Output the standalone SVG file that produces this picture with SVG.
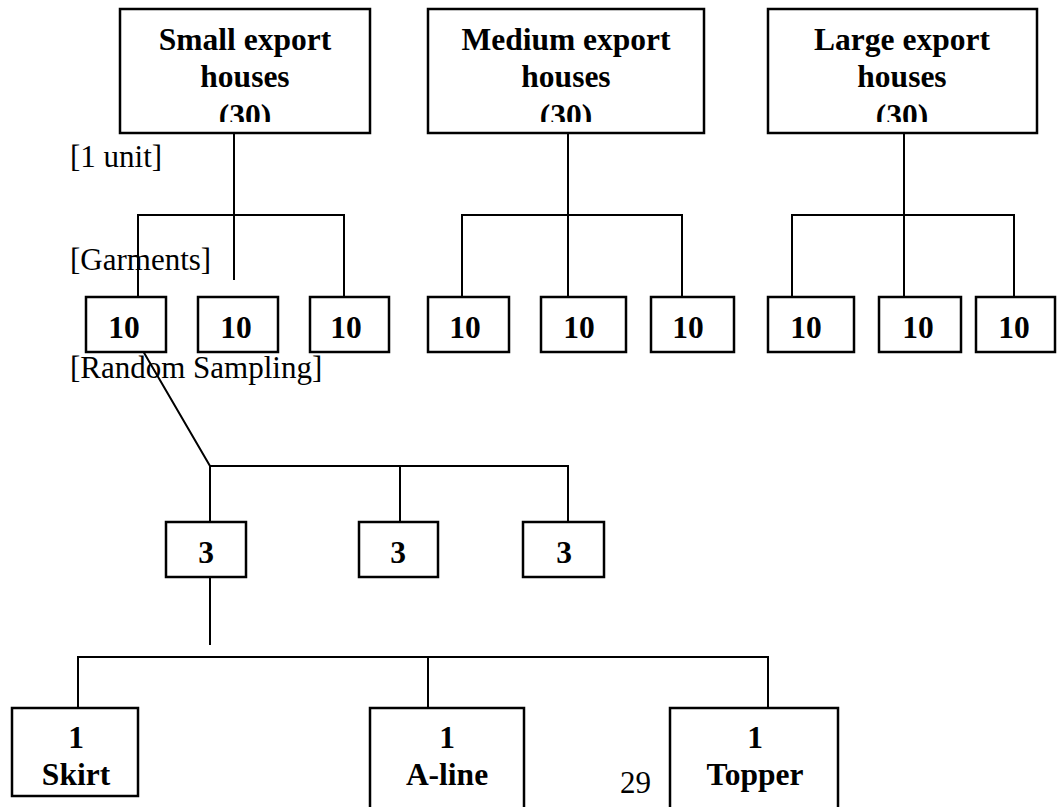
<svg xmlns="http://www.w3.org/2000/svg" width="1057" height="807" viewBox="0 0 1057 807">
<style>
.box{fill:#fff;stroke:#000;stroke-width:2.5}
.con{stroke:#000;stroke-width:2;fill:none}
.b{font-family:"Liberation Serif","Times New Roman",serif;font-weight:bold;font-size:31.5px;text-anchor:middle;fill:#000}
.r{font-family:"Liberation Serif","Times New Roman",serif;font-size:31px;fill:#000}
</style>
<defs>
<clipPath id="clipHead"><rect x="0" y="0" width="1057" height="122"/></clipPath>
</defs>
<rect width="1057" height="807" fill="#fff"/>
<g id="connectors">
<line class="con" x1="234" y1="133" x2="234" y2="280"/>
<polyline class="con" points="138,297 138,215 344,215 344,297"/>
<line class="con" x1="568" y1="133" x2="568" y2="297"/>
<polyline class="con" points="462,297 462,215 682,215 682,297"/>
<line class="con" x1="904" y1="133" x2="904" y2="297"/>
<polyline class="con" points="792,297 792,215 1014,215 1014,297"/>
<polyline class="con" points="143,351 210,466 568,466 568,522"/>
<line class="con" x1="210" y1="466" x2="210" y2="522"/>
<line class="con" x1="400" y1="466" x2="400" y2="522"/>
<line class="con" x1="210" y1="577" x2="210" y2="645"/>
<polyline class="con" points="78,708 78,657 768,657 768,708"/>
<line class="con" x1="428" y1="657" x2="428" y2="708"/>
</g>
<g id="small">
<rect class="box" x="120" y="9" width="250" height="124"/>
<g clip-path="url(#clipHead)"><text class="b" x="245" y="50">Small export</text><text class="b" x="245" y="87">houses</text><text class="b" x="245" y="126">(30)</text></g>
</g>
<g id="medium">
<rect class="box" x="428" y="9" width="276" height="124"/>
<g clip-path="url(#clipHead)"><text class="b" x="566" y="50">Medium export</text><text class="b" x="566" y="87">houses</text><text class="b" x="566" y="126">(30)</text></g>
</g>
<g id="large">
<rect class="box" x="768" y="9" width="269" height="124"/>
<g clip-path="url(#clipHead)"><text class="b" x="902" y="50">Large export</text><text class="b" x="902" y="87">houses</text><text class="b" x="902" y="126">(30)</text></g>
</g>
<g id="labels">
<text class="r" x="70" y="167">[1 unit]</text>
<text class="r" x="70" y="270">[Garments]</text>
<text class="r" x="70" y="378">[Random Sampling]</text>
<text class="r" x="620" y="793">29</text>
</g>
<g id="s1"><rect class="box" x="86" y="297" width="80" height="55"/><text class="b" x="124" y="338">10</text></g>
<g id="s2"><rect class="box" x="198" y="297" width="80" height="55"/><text class="b" x="236" y="338">10</text></g>
<g id="s3"><rect class="box" x="310" y="297" width="79" height="55"/><text class="b" x="346" y="338">10</text></g>
<g id="m1"><rect class="box" x="428" y="297" width="81" height="55"/><text class="b" x="465" y="338">10</text></g>
<g id="m2"><rect class="box" x="541" y="297" width="85" height="55"/><text class="b" x="579" y="338">10</text></g>
<g id="m3"><rect class="box" x="651" y="297" width="83" height="55"/><text class="b" x="688" y="338">10</text></g>
<g id="l1"><rect class="box" x="768" y="297" width="86" height="55"/><text class="b" x="806" y="338">10</text></g>
<g id="l2"><rect class="box" x="879" y="297" width="82" height="55"/><text class="b" x="918" y="338">10</text></g>
<g id="l3"><rect class="box" x="976" y="297" width="79" height="55"/><text class="b" x="1014" y="338">10</text></g>
<g id="r1"><rect class="box" x="166" y="522" width="80" height="55"/><text class="b" x="206" y="563">3</text></g>
<g id="r2"><rect class="box" x="359" y="522" width="79" height="55"/><text class="b" x="398" y="563">3</text></g>
<g id="r3"><rect class="box" x="523" y="522" width="81" height="55"/><text class="b" x="564" y="563">3</text></g>
<g id="skirt"><rect class="box" x="12" y="708" width="126" height="88"/><text class="b" x="76" y="748">1</text><text class="b" x="76" y="785">Skirt</text></g>
<g id="aline"><rect class="box" x="370" y="708" width="154" height="104"/><text class="b" x="447" y="748">1</text><text class="b" x="447" y="785">A-line</text></g>
<g id="topper"><rect class="box" x="670" y="708" width="168" height="104"/><text class="b" x="755" y="748">1</text><text class="b" x="755" y="785">Topper</text></g>
</svg>
